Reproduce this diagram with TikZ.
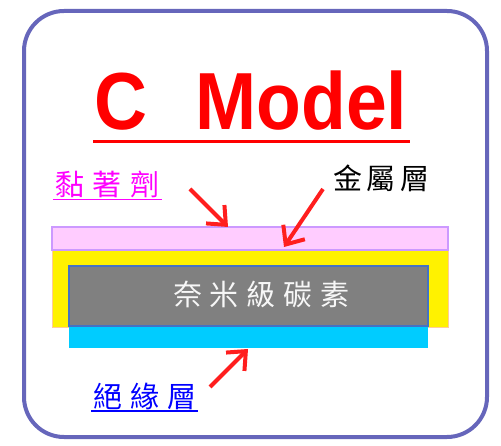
\documentclass[tikz,border=0pt]{standalone}
\usepackage{fontspec}
\setmainfont{Liberation Sans}
\newfontfamily\cjk{Noto Sans CJK TC}
\usetikzlibrary{arrows.meta}
\definecolor{framec}{RGB}{102,102,187}
\definecolor{pinkf}{RGB}{255,204,255}
\definecolor{pinkb}{RGB}{204,153,255}
\definecolor{yelb}{RGB}{255,204,153}
\definecolor{grayb}{RGB}{68,114,196}
\definecolor{cyanf}{RGB}{0,204,255}
\definecolor{arrowc}{RGB}{255,30,30}
\definecolor{magc}{RGB}{255,0,255}
\tikzset{
  layer/.style={rectangle, inner sep=0pt, outer sep=0pt},
  lbl/.style={inner sep=0pt, outer sep=0pt, font=\cjk\fontsize{29pt}{30pt}\selectfont},
  redarrow/.style={draw=arrowc, line width=4pt, -{Straight Barb[length=15pt,width=26pt,line width=4pt]}},
}
\begin{document}
\begin{tikzpicture}[x=1pt,y=-1pt]
\useasboundingbox (0,0) rectangle (501,446);
\draw[framec, line width=4pt, rounded corners=40pt] (24,11) rectangle (487,437);
% title
\node[inner sep=0pt, text=red, font=\bfseries\fontsize{81pt}{82pt}\selectfont] (title) at (251,101)
  {\scalebox{0.905}[1]{C\hspace{53pt}Model}};
\draw[red, line width=3pt] (93,142) -- (410,142);
% layers
\node[layer, fill=yellow, draw=yelb, line width=1pt, minimum width=396pt, minimum height=78pt] (metal) at (250,289) {};
\node[layer, fill=cyanf, minimum width=359pt, minimum height=22pt] (insul) at (248.5,337) {};
\node[layer, fill=gray, draw=grayb, line width=2pt, minimum width=359pt, minimum height=60pt] (carbon) at (248.5,296) {};
\node[layer, fill=pinkf, draw=pinkb, line width=1.5pt, minimum width=396pt, minimum height=23pt] (glue) at (250,238.5) {};
\node[lbl, text=white!94!gray] (carbontxt) at (261.5,294) {奈\hspace{8pt}米\hspace{8pt}級\hspace{8pt}碳\hspace{8pt}素};
% labels
\node[lbl, text=magc] (gluelbl) at (107.5,184) {黏\hspace{9pt}著\hspace{9pt}劑};
\draw[magc, line width=1.5pt] (53,199.5) -- (162,199.5);
\node[lbl, text=black] (metallbl) at (381.5,178) {金\hspace{5pt}屬\hspace{5pt}層};
\node[lbl, text=blue] (insullbl) at (145,396) {絕\hspace{8pt}緣\hspace{8pt}層};
\draw[blue, line width=1.5pt] (91,411) -- (198,411);
% arrows
\coordinate (t1) at (190,189); \coordinate (h1) at (228,227);
\coordinate (t2) at (323,189); \coordinate (h2) at (284,247);
\coordinate (t3) at (210,387); \coordinate (h3) at (248,349);
\draw[redarrow] (t1) -- (h1);
\draw[redarrow] (t2) -- (h2);
\draw[redarrow] (t3) -- (h3);
\end{tikzpicture}
\end{document}
